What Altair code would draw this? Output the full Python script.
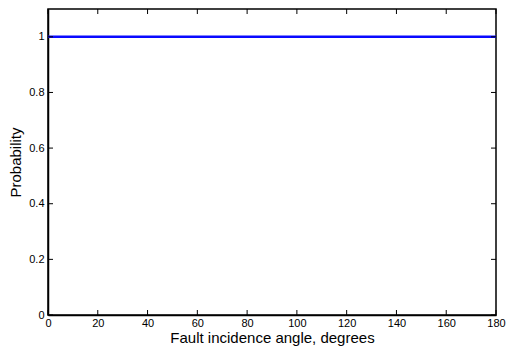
import altair as alt
import pandas as pd

angle = [0, 180]
probability = [1, 1]
x_ticks = [0, 20, 40, 60, 80, 100, 120, 140, 160, 180]
y_ticks = [0, 0.2, 0.4, 0.6, 0.8, 1]

W, H = 448, 306
FONT = "Liberation Sans"

line_df = pd.DataFrame({"angle": angle, "p": probability})
xt = pd.DataFrame({"angle": x_ticks})
yt = pd.DataFrame({"p": y_ticks})

xscale = alt.Scale(domain=[0, 180], nice=False, zero=False)
yscale = alt.Scale(domain=[0, 1.1], nice=False, zero=False)

xaxis = alt.Axis(values=x_ticks, ticks=False, grid=False, title="Fault incidence angle, degrees",
                 labelFont=FONT, labelFontSize=11, labelColor="black", labelPadding=2,
                 titleFont=FONT, titleFontSize=15, titleFontWeight="normal", titleColor="black",
                 titlePadding=2, domainColor="black", domainWidth=1.5, labelFlush=False)
yaxis = alt.Axis(values=y_ticks, ticks=False, grid=False, title="Probability", format="~g",
                 labelFont=FONT, labelFontSize=11, labelColor="black", labelPadding=4,
                 titleFont=FONT, titleFontSize=15, titleFontWeight="normal", titleColor="black",
                 titlePadding=5, domainColor="black", domainWidth=1.5, labelFlush=False)

line = alt.Chart(line_df).mark_line(color="#0a0aff", strokeWidth=2.5, clip=True).encode(
    x=alt.X("angle:Q", scale=xscale, axis=xaxis),
    y=alt.Y("p:Q", scale=yscale, axis=yaxis),
)

tick_style = dict(color="black", strokeWidth=1)
bottom = alt.Chart(xt).mark_rule(**tick_style).encode(
    x=alt.X("angle:Q", scale=xscale), y=alt.value(H), y2=alt.value(H - 5))
top = alt.Chart(xt).mark_rule(**tick_style).encode(
    x=alt.X("angle:Q", scale=xscale), y=alt.value(0), y2=alt.value(5))
left = alt.Chart(yt).mark_rule(**tick_style).encode(
    y=alt.Y("p:Q", scale=yscale), x=alt.value(0), x2=alt.value(5))
right = alt.Chart(yt).mark_rule(**tick_style).encode(
    y=alt.Y("p:Q", scale=yscale), x=alt.value(W), x2=alt.value(W - 5))

chart = alt.layer(line, bottom, top, left, right).properties(
    width=W, height=H,
    autosize=alt.AutoSizeParams(type="none"),
    padding={"left": 48, "top": 9, "right": 11, "bottom": 32},
    background="white",
).configure_view(stroke="black", strokeWidth=1.5)

chart.save("out.html", embed_options={"renderer": "svg", "actions": False})
